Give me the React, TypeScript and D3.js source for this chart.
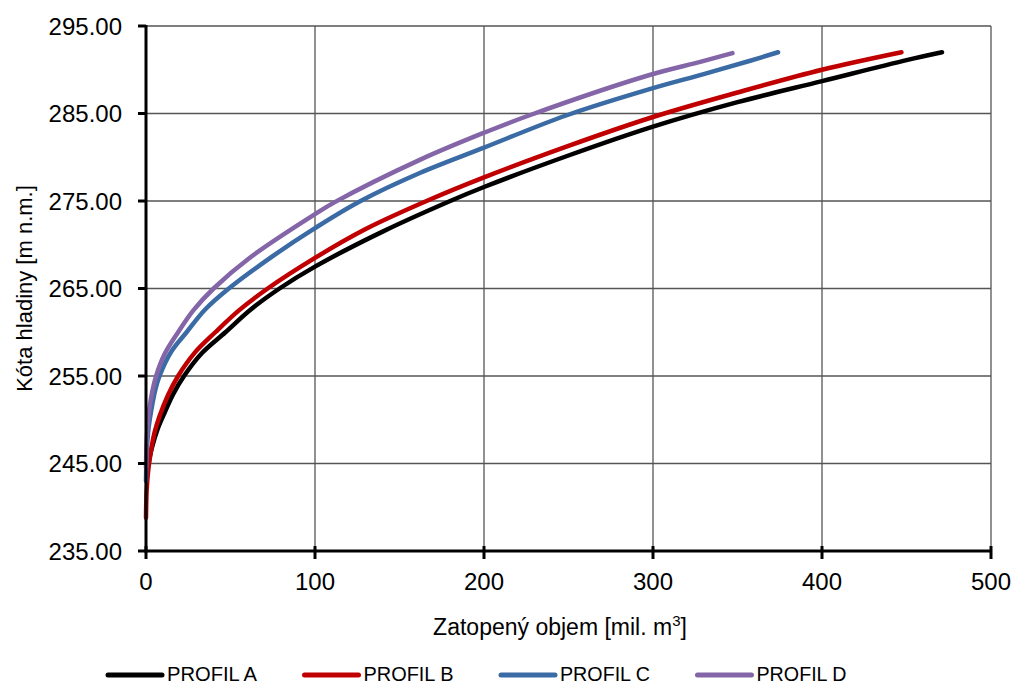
import React from 'react'
import * as d3 from 'd3'

const width = 1015
const height = 684
const margin = { left: 146, right: 24, top: 26, bottom: 133 }

// zatopený objem [mil. m3] a kóta hladiny [m n.m.]
const volumeA = [0.3, 1.5, 3.5, 7, 11, 16, 22.5, 33, 47, 62, 79, 100, 140, 180, 200, 250, 300, 350, 400, 450, 471]
const levelA = [243.8, 245, 246.8, 249, 250.8, 252.9, 255, 257.6, 260, 262.6, 265, 267.5, 271.5, 275, 276.6, 280.2, 283.5, 286.3, 288.7, 291.1, 292]

const volumeB = [0, 0.4, 1.2, 2.4, 5, 8, 13, 19, 29, 41, 55, 72, 100, 130, 166, 200, 250, 300, 350, 400, 447]
const levelB = [238.8, 242, 244, 245.8, 248.5, 250.4, 252.8, 255, 257.7, 260, 262.5, 265, 268.5, 271.8, 275, 277.7, 281.3, 284.6, 287.4, 290, 292]

const volumeC = [0, 0.5, 1.5, 3.5, 5.5, 8, 15, 24, 35, 49, 75, 100, 127, 162, 200, 249, 300, 330, 357, 374]
const levelC = [243, 246.5, 249, 251.5, 253.4, 255, 257.8, 260, 262.6, 265, 268.7, 271.9, 275, 278.2, 281.1, 284.8, 287.9, 289.5, 291, 292]

const volumeD = [0, 0.5, 1.5, 3, 6, 11, 19, 28, 40, 62, 100, 112, 162, 200, 227, 298, 328, 347]
const levelD = [244.5, 248, 250.5, 252.5, 255, 257.5, 260, 262.5, 265, 268.6, 273.5, 274.9, 279.7, 282.8, 284.8, 289.4, 290.9, 291.9]

const seriesNames = ['PROFIL A', 'PROFIL B', 'PROFIL C', 'PROFIL D']
const seriesColors = ['#000000', '#c00000', '#3a6ba5', '#8466a8']

const xTicks = [0, 100, 200, 300, 400, 500]
const yTicks = [235, 245, 255, 265, 275, 285, 295]

const App = () => {
  const x = d3.scaleLinear().domain([0, 500]).range([margin.left, width - margin.right])
  const y = d3.scaleLinear().domain([235, 295]).range([height - margin.bottom, margin.top])

  const series = [
    [volumeA, levelA],
    [volumeB, levelB],
    [volumeC, levelC],
    [volumeD, levelD],
  ].map(([v, h]) => v.map((d, i) => [d, h[i]] as [number, number]))

  const line = d3.line<[number, number]>()
    .x(d => x(d[0]))
    .y(d => y(d[1]))
    .curve(d3.curveCatmullRom.alpha(0.5))

  const font = 'Liberation Sans, Arial, sans-serif'
  const x0 = x(0), x1 = x(500), yb = y(235), yt = y(295)

  return (
    <svg width={width} height={height} style={{ position: 'absolute', left: 0, top: 0, background: '#fff' }}>
      {/* mřížka */}
      {xTicks.slice(1).map(t =>
        <line key={'gx' + t} x1={x(t)} x2={x(t)} y1={yt} y2={yb} stroke="#555" strokeWidth={1.3} />
      )}
      {yTicks.slice(1).map(t =>
        <line key={'gy' + t} x1={x0} x2={x1} y1={y(t)} y2={y(t)} stroke="#555" strokeWidth={1.3} />
      )}

      {series.map((s, i) =>
        <path key={i} d={line(s) || ''} fill="none" stroke={seriesColors[i]} strokeWidth={4.5} strokeLinecap="round" strokeLinejoin="round" />
      )}

      {/* osy */}
      <line x1={x0} x2={x0} y1={yt - 1} y2={yb + 1.5} stroke="#000" strokeWidth={3} />
      <line x1={x0 - 1.5} x2={x1 + 1} y1={yb} y2={yb} stroke="#000" strokeWidth={3} />
      {yTicks.map(t =>
        <line key={'ty' + t} x1={x0 - 8} x2={x0} y1={y(t)} y2={y(t)} stroke="#000" strokeWidth={3} />
      )}
      {xTicks.map(t =>
        <line key={'tx' + t} x1={x(t)} x2={x(t)} y1={yb - 5} y2={yb + 8} stroke="#000" strokeWidth={3} />
      )}

      {yTicks.map(t =>
        <text key={'ly' + t} x={x0 - 24} y={y(t)} dy="0.36em" textAnchor="end" fontFamily={font} fontSize={24} fill="#000">
          {t.toFixed(2)}
        </text>
      )}
      {xTicks.map(t =>
        <text key={'lx' + t} x={x(t)} y={yb + 39} textAnchor="middle" fontFamily={font} fontSize={24} fill="#000">
          {t}
        </text>
      )}

      <text x={560} y={635} textAnchor="middle" fontFamily={font} fontSize={23} fill="#000">
        Zatopený objem [mil. m<tspan dy={-9} fontSize={15}>3</tspan><tspan dy={9}>]</tspan>
      </text>
      <text transform={`translate(32,${(yt + yb) / 2}) rotate(-90)`} textAnchor="middle" fontFamily={font} fontSize={22} fill="#000">
        Kóta hladiny [m n.m.]
      </text>

      {/* legenda */}
      {seriesNames.map((n, i) => {
        const lx = 108 + i * 196.5
        return (
          <g key={n}>
            <line x1={lx} x2={lx + 54} y1={675} y2={675} stroke={seriesColors[i]} strokeWidth={5} strokeLinecap="round" />
            <text x={lx + 59} y={681} fontFamily="Liberation Sans Narrow, Arial Narrow, sans-serif" fontSize={21}
              textLength={90} lengthAdjust="spacingAndGlyphs" fill="#000">{n}</text>
          </g>
        )
      })}
    </svg>
  )
}

export default App
